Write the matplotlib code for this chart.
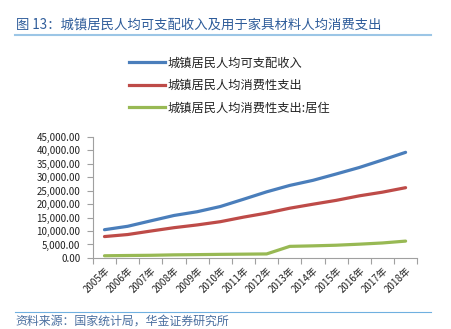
import matplotlib
matplotlib.use('Agg')
import matplotlib.pyplot as plt
from matplotlib.ticker import FuncFormatter, FixedLocator
from matplotlib.lines import Line2D

plt.rcParams['font.family'] = ['Noto Sans CJK SC', 'DejaVu Sans']

years = ['2005年', '2006年', '2007年', '2008年', '2009年', '2010年', '2011年',
         '2012年', '2013年', '2014年', '2015年', '2016年', '2017年', '2018年']
income = [10493, 11759, 13786, 15781, 17175, 19109, 21810,
          24565, 26955, 28844, 31195, 33616, 36396, 39251]
consume = [7943, 8697, 9997, 11243, 12265, 13471, 15161,
           16674, 18488, 19968, 21392, 23079, 24445, 26112]
housing = [808, 904, 982, 1145, 1228, 1332, 1405,
           1484, 4301, 4490, 4726, 5114, 5564, 6255]
names = ['城镇居民人均可支配收入', '城镇居民人均消费性支出', '城镇居民人均消费性支出:居住']
colors = ['#4a7ebb', '#be4b48', '#98b954']

fig = plt.figure(figsize=(4.51, 3.29), dpi=100)
ax = fig.add_axes([0.206, 0.216, 0.719, 0.368])

x = range(len(years))
for vals, c in zip([income, consume, housing], colors):
    ax.plot(x, vals, color=c, lw=2.3, solid_capstyle='round')

ax.set_xlim(-0.5, len(years) - 0.5)
ax.set_ylim(0, 45000)
ax.set_yticks(range(0, 45001, 5000))
ax.yaxis.set_major_formatter(FuncFormatter(lambda v, p: f'{v:,.2f}'))

ax.xaxis.set_major_locator(FixedLocator([i - 0.5 for i in range(len(years) + 1)]))
ax.xaxis.set_minor_locator(FixedLocator(list(x)))
ax.set_xticklabels([], minor=False)
ax.set_xticklabels(years, minor=True, rotation=45, ha='right', rotation_mode='anchor')
ax.tick_params(axis='x', which='major', length=4, color='#a0a0a0')
ax.tick_params(axis='x', which='minor', length=0, pad=5, labelsize=7, labelcolor='#222222')
ax.tick_params(axis='y', length=4, pad=5, color='#a0a0a0', labelsize=7, labelcolor='#222222')

for s in ['top', 'right']:
    ax.spines[s].set_visible(False)
for s in ['left', 'bottom']:
    ax.spines[s].set_color('#a0a0a0')

# legend
handles = [Line2D([], [], color=c, lw=2.3) for c in colors]
fig.legend(handles, names, loc='upper left', bbox_to_anchor=(0.262, 0.862),
           frameon=False, fontsize=8.8, handlelength=2.9, handletextpad=0.25,
           labelspacing=0.78, labelcolor='#222222')

# title and footer
fig.text(0.035, 0.925, '图 13：城镇居民人均可支配收入及用于家具材料人均消费支出',
         fontsize=9.6, color='#2e5c9a', va='center')
fig.add_artist(Line2D([0.033, 0.955], [0.895, 0.895], color='#9cc6e6', lw=1.5))
fig.add_artist(Line2D([0.033, 0.955], [0.052, 0.052], color='#6fb0e0', lw=0.8))
fig.text(0.035, 0.024, '资料来源：国家统计局，华金证券研究所',
         fontsize=8.6, color='#4a6fa0', va='center')

fig.savefig('out.png', dpi=100)
